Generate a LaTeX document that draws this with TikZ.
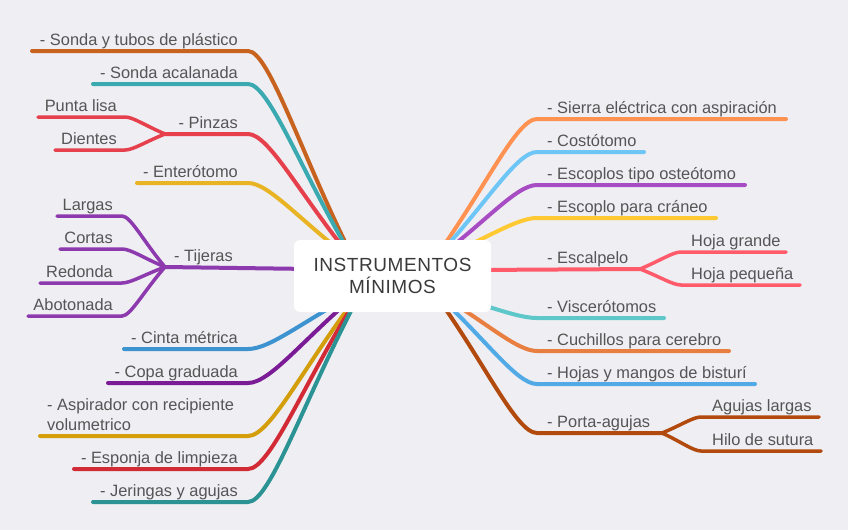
\documentclass[tikz,border=0pt]{standalone}
\usepackage{fontspec}
\setmainfont{Liberation Sans}
\newfontfamily\hubfont[LetterSpace=3]{Liberation Sans}
\usetikzlibrary{calc}

\definecolor{bg}{HTML}{EEEEF3}
\definecolor{txtgray}{HTML}{555555}
\definecolor{rootgray}{HTML}{3A3A3A}
% left side
\definecolor{sonda}{HTML}{C8621F}
\definecolor{acalanada}{HTML}{3AAAB0}
\definecolor{pinzas}{HTML}{E6404C}
\definecolor{entero}{HTML}{E9B424}
\definecolor{tijeras}{HTML}{8E3AAF}
\definecolor{cinta}{HTML}{3D93CF}
\definecolor{copa}{HTML}{7B1B95}
\definecolor{aspira}{HTML}{D39E0A}
\definecolor{esponja}{HTML}{D22B36}
\definecolor{jeringa}{HTML}{2B9393}
% right side
\definecolor{sierra}{HTML}{FF9151}
\definecolor{costo}{HTML}{6EC6F7}
\definecolor{escoplos}{HTML}{A84CC4}
\definecolor{craneo}{HTML}{FFC933}
\definecolor{escalpelo}{HTML}{FF5B6B}
\definecolor{viscero}{HTML}{5DC7C9}
\definecolor{cuchillo}{HTML}{E87E3F}
\definecolor{bisturi}{HTML}{51A9E6}
\definecolor{porta}{HTML}{B14A0C}

\begin{document}
\begin{tikzpicture}[x=1pt, y=-1pt,
    every node/.style={text=txtgray, font=\fontsize{16.4}{20}\selectfont, inner sep=0pt},
    branch/.style={line width=4pt, line cap=round},
    twig/.style={line width=3.5pt, line cap=round},
    curvy/.style={to path={let \p1=(\tikztostart), \p2=(\tikztotarget) in
        .. controls ($(\p1)!0.5!(\p2)$) and ({\x2-0.2*(\x2-\x1)},\y2) .. (\tikztotarget)}},
    lt/.style={anchor=base east}, rt/.style={anchor=base west},
    hub/.style={fill=white, rounded corners=6pt, minimum width=197pt, minimum height=72pt,
        align=center, text=rootgray, font=\hubfont\fontsize{19}{22}\selectfont}]

    \fill[bg] (0,0) rectangle (848,530);

    % where the branches leave the hub (hidden under it)
    \coordinate (ul) at (355,262);
    \coordinate (ll) at (362,290);
    \coordinate (ur) at (432,262);
    \coordinate (lr) at (432,290);
    \coordinate (lc) at (310,269);
    \coordinate (rc) at (475,270);

    % left side
    \coordinate (l1) at (248,51);   \coordinate (l1e) at (32,51);
    \coordinate (l2) at (248,84);   \coordinate (l2e) at (93,84);
    \coordinate (l3) at (248,134);  \coordinate (l3j) at (165,134);
    \coordinate (l3a) at (125,117); \coordinate (l3ae) at (38,117);
    \coordinate (l3b) at (125,150); \coordinate (l3be) at (55,150);
    \coordinate (l4) at (248,183);  \coordinate (l4e) at (137,183);
    \coordinate (l5j) at (165,267);
    \coordinate (l5a) at (122,216); \coordinate (l5ae) at (57,216);
    \coordinate (l5b) at (122,249); \coordinate (l5be) at (60,249);
    \coordinate (l5c) at (122,283); \coordinate (l5ce) at (40,283);
    \coordinate (l5d) at (122,316); \coordinate (l5de) at (28,316);
    \coordinate (l6) at (248,349);  \coordinate (l6e) at (124,349);
    \coordinate (l7) at (248,383);  \coordinate (l7e) at (108,383);
    \coordinate (l8) at (248,436);  \coordinate (l8e) at (40,436);
    \coordinate (l9) at (248,469);  \coordinate (l9e) at (74,469);
    \coordinate (l10) at (248,502); \coordinate (l10e) at (93,502);

    \draw[branch, sonda] (ul) to[curvy] (l1) -- (l1e);
    \draw[branch, acalanada] (ul) to[curvy] (l2) -- (l2e);
    \draw[branch, pinzas] (ul) to[curvy] (l3) -- (l3j);
    \draw[twig, pinzas] (l3j) to[curvy] (l3a) -- (l3ae);
    \draw[twig, pinzas] (l3j) to[curvy] (l3b) -- (l3be);
    \draw[branch, entero] (ul) to[curvy] (l4) -- (l4e);
    \draw[branch, tijeras] (lc) -- (l5j);
    \draw[twig, tijeras] (l5j) to[curvy] (l5a) -- (l5ae);
    \draw[twig, tijeras] (l5j) to[curvy] (l5b) -- (l5be);
    \draw[twig, tijeras] (l5j) to[curvy] (l5c) -- (l5ce);
    \draw[twig, tijeras] (l5j) to[curvy] (l5d) -- (l5de);
    \draw[branch, cinta] (ll) to[curvy] (l6) -- (l6e);
    \draw[branch, copa] (ll) to[curvy] (l7) -- (l7e);
    \draw[branch, aspira] (ll) to[curvy] (l8) -- (l8e);
    \draw[branch, esponja] (ll) to[curvy] (l9) -- (l9e);
    \draw[branch, jeringa] (ll) to[curvy] (l10) -- (l10e);

    \node[lt] (t1) at ($(l1)+(-10,-6)$) {- Sonda y tubos de plástico};
    \node[lt] (t2) at ($(l2)+(-10,-6)$) {- Sonda acalanada};
    \node[lt] (t3) at ($(l3)+(-10,-6)$) {- Pinzas};
    \node[lt] (t3a) at ($(l3a)+(-8,-6)$) {Punta lisa};
    \node[lt] (t3b) at ($(l3b)+(-8,-6)$) {Dientes};
    \node[lt] (t4) at ($(l4)+(-10,-6)$) {- Enterótomo};
    \node[lt] (t5) at (233,261) {- Tijeras};
    \node[lt] (t5a) at ($(l5a)+(-9,-6)$) {Largas};
    \node[lt] (t5b) at ($(l5b)+(-9,-6)$) {Cortas};
    \node[lt] (t5c) at ($(l5c)+(-9,-6)$) {Redonda};
    \node[lt] (t5d) at ($(l5d)+(-9,-6)$) {Abotonada};
    \node[lt] (t6) at ($(l6)+(-10,-6)$) {- Cinta métrica};
    \node[lt] (t7) at ($(l7)+(-10,-6)$) {- Copa graduada};
    \node[anchor=south west, align=left] (t8) at (47,431) {- Aspirador con recipiente\\volumetrico};
    \node[lt] (t9) at ($(l9)+(-10,-6)$) {- Esponja de limpieza};
    \node[lt] (t10) at ($(l10)+(-10,-6)$) {- Jeringas y agujas};

    % right side
    \coordinate (r1) at (537,119);  \coordinate (r1e) at (786,119);
    \coordinate (r2) at (537,152);  \coordinate (r2e) at (644,152);
    \coordinate (r3) at (537,185);  \coordinate (r3e) at (745,185);
    \coordinate (r4) at (537,218);  \coordinate (r4e) at (716,218);
    \coordinate (r5j) at (640,269);
    \coordinate (r5a) at (681,252); \coordinate (r5ae) at (786,252);
    \coordinate (r5b) at (681,285); \coordinate (r5be) at (800,285);
    \coordinate (r6) at (537,318);  \coordinate (r6e) at (664,318);
    \coordinate (r7) at (537,351);  \coordinate (r7e) at (729,351);
    \coordinate (r8) at (537,384);  \coordinate (r8e) at (755,384);
    \coordinate (r9) at (537,433);  \coordinate (r9j) at (662,433);
    \coordinate (r9a) at (701,417); \coordinate (r9ae) at (819,417);
    \coordinate (r9b) at (701,451); \coordinate (r9be) at (821,451);

    \draw[branch, sierra] (ur) to[curvy] (r1) -- (r1e);
    \draw[branch, costo] (ur) to[curvy] (r2) -- (r2e);
    \draw[branch, escoplos] (ur) to[curvy] (r3) -- (r3e);
    \draw[branch, craneo] (ur) to[curvy] (r4) -- (r4e);
    \draw[branch, escalpelo] (rc) -- (r5j);
    \draw[twig, escalpelo] (r5j) to[curvy] (r5a) -- (r5ae);
    \draw[twig, escalpelo] (r5j) to[curvy] (r5b) -- (r5be);
    \draw[branch, viscero] (lr) to[curvy] (r6) -- (r6e);
    \draw[branch, cuchillo] (lr) to[curvy] (r7) -- (r7e);
    \draw[branch, bisturi] (lr) to[curvy] (r8) -- (r8e);
    \draw[branch, porta] (lr) to[curvy] (r9) -- (r9j);
    \draw[twig, porta] (r9j) to[curvy] (r9a) -- (r9ae);
    \draw[twig, porta] (r9j) to[curvy] (r9b) -- (r9be);

    \node[rt] (s1) at ($(r1)+(10,-6)$) {- Sierra eléctrica con aspiración};
    \node[rt] (s2) at ($(r2)+(10,-6)$) {- Costótomo};
    \node[rt] (s3) at ($(r3)+(10,-6)$) {- Escoplos tipo osteótomo};
    \node[rt] (s4) at ($(r4)+(10,-6)$) {- Escoplo para cráneo};
    \node[rt] (s5) at (547,263) {- Escalpelo};
    \node[rt] (s5a) at ($(r5a)+(10,-6)$) {Hoja grande};
    \node[rt] (s5b) at ($(r5b)+(10,-6)$) {Hoja pequeña};
    \node[rt] (s6) at ($(r6)+(10,-6)$) {- Viscerótomos};
    \node[rt] (s7) at ($(r7)+(10,-6)$) {- Cuchillos para cerebro};
    \node[rt] (s8) at ($(r8)+(10,-6)$) {- Hojas y mangos de bisturí};
    \node[rt] (s9) at ($(r9)+(10,-6)$) {- Porta-agujas};
    \node[rt] (s9a) at ($(r9a)+(11,-6)$) {Agujas largas};
    \node[rt] (s9b) at ($(r9b)+(11,-6)$) {Hilo de sutura};

    % hub on top of the branch roots
    \node[hub] (root) at (392.5,276) {INSTRUMENTOS\\MÍNIMOS};
\end{tikzpicture}
\end{document}
